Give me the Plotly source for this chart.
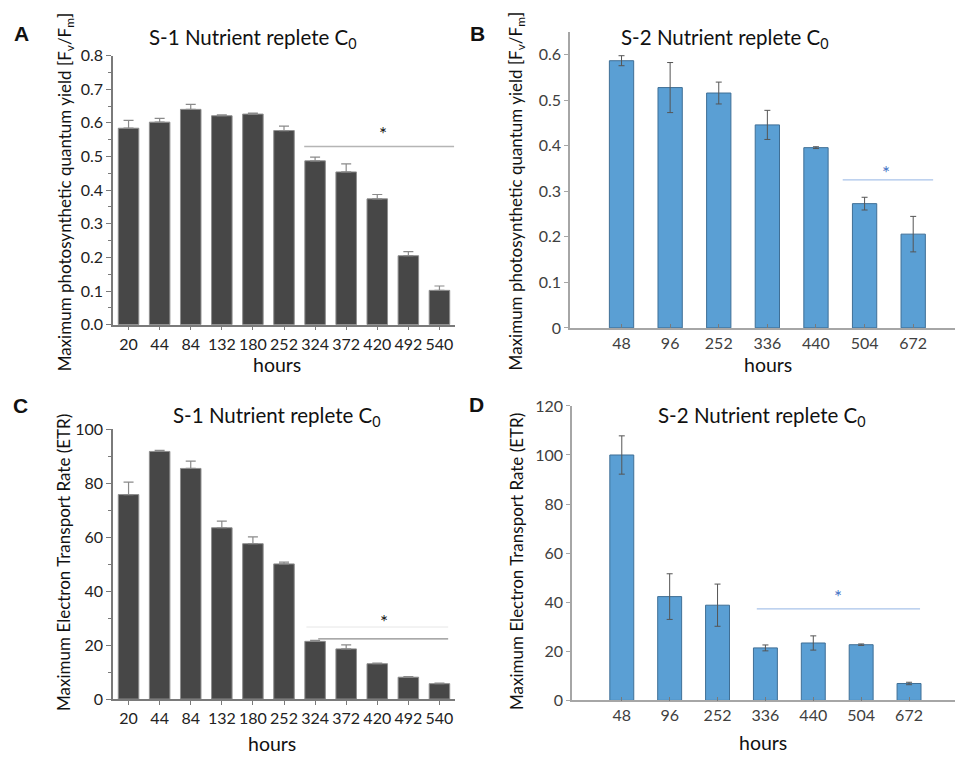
import plotly.graph_objects as go

# ---- data -------------------------------------------------------------
hours_s1 = ["20", "44", "84", "132", "180", "252", "324", "372", "420", "492", "540"]
fvfm_s1 = [0.584, 0.602, 0.640, 0.621, 0.626, 0.577, 0.487, 0.454, 0.374, 0.205, 0.102]
fvfm_s1_err = [0.023, 0.011, 0.015, 0.003, 0.003, 0.013, 0.011, 0.024, 0.013, 0.012, 0.013]

hours_s2 = ["48", "96", "252", "336", "440", "504", "672"]
fvfm_s2 = [0.587, 0.528, 0.516, 0.446, 0.396, 0.273, 0.206]
fvfm_s2_err = [0.011, 0.055, 0.024, 0.032, 0.002, 0.014, 0.039]

etr_s1 = [75.8, 91.8, 85.5, 63.5, 57.6, 50.1, 21.4, 18.6, 13.1, 8.1, 5.7]
etr_s1_err = [4.6, 0.4, 2.7, 2.5, 2.5, 0.7, 0.4, 1.5, 0.2, 0.2, 0.2]

etr_s2 = [100.0, 42.3, 38.8, 21.4, 23.4, 22.7, 6.9]
etr_s2_err = [7.8, 9.3, 8.6, 1.2, 2.9, 0.3, 0.5]

# significance brackets: (start index, end index, level, star index, star level)
sig_a = (5.65, 10.47, 0.530, 8.19, 0.568)
sig_b = (4.55, 6.41, 0.325, 5.44, 0.342)
sig_c = (6.10, 10.28, 22.3, 8.22, 28.8)
sig_c_faint = (5.72, 10.28, 26.7)
sig_d = (2.82, 6.23, 37.3, 4.52, 42.5)

# ---- styling ----------------------------------------------------------
W, H = 955, 765
FONT = "Lato"
DARK = "#474747"
DARK_EDGE = "#8f8f8f"
BLUE = "#5a9fd4"
BLUE_EDGE = "#3f6f96"


def px_x(p):
    return p / W


def px_y(p):
    return 1 - p / H


fig = go.Figure()

# S-1 panels (dark bars, one-sided error bars)
fig.add_trace(go.Bar(
    x=hours_s1, y=fvfm_s1, width=0.66, xaxis="x", yaxis="y",
    marker=dict(color=DARK, line=dict(color=DARK_EDGE, width=1)),
    error_y=dict(type="data", array=fvfm_s1_err, arrayminus=[0] * len(fvfm_s1_err),
                 symmetric=False, color="#8a8a8a", thickness=1.2, width=5),
))
fig.add_trace(go.Bar(
    x=hours_s1, y=etr_s1, width=0.66, xaxis="x3", yaxis="y3",
    marker=dict(color=DARK, line=dict(color=DARK_EDGE, width=1)),
    error_y=dict(type="data", array=etr_s1_err, arrayminus=[0] * len(etr_s1_err),
                 symmetric=False, color="#8a8a8a", thickness=1.2, width=5),
))

# S-2 panels (blue bars, symmetric error bars)
fig.add_trace(go.Bar(
    x=hours_s2, y=fvfm_s2, width=0.5, xaxis="x2", yaxis="y2",
    marker=dict(color=BLUE, line=dict(color=BLUE_EDGE, width=1)),
    error_y=dict(type="data", array=fvfm_s2_err, color="#555555", thickness=1, width=3),
))
fig.add_trace(go.Bar(
    x=hours_s2, y=etr_s2, width=0.5, xaxis="x4", yaxis="y4",
    marker=dict(color=BLUE, line=dict(color=BLUE_EDGE, width=1)),
    error_y=dict(type="data", array=etr_s2_err, color="#555555", thickness=1, width=3),
))

tick_font_s1 = dict(family=FONT, size=16, color="#222222")
tick_font_s2 = dict(family=FONT, size=16, color="#404040")

s1_x = dict(type="category", range=[-0.5, 10.5], showline=True, linecolor="#7a7a7a",
            linewidth=1.5, ticks="outside", ticklen=4, tickcolor="#7a7a7a",
            tickfont=tick_font_s1, showgrid=False, zeroline=False, fixedrange=True)
s2_x = dict(type="category", range=[-1.06, 6.86], showline=True, linecolor="#a6a6a6",
            linewidth=1.5, ticks="inside", ticklen=4, tickcolor="#7a7a7a",
            tickfont=tick_font_s2, showgrid=False, zeroline=False, fixedrange=True)

fig.update_layout(
    width=W, height=H, margin=dict(l=0, r=0, t=0, b=0),
    paper_bgcolor="white", plot_bgcolor="white", showlegend=False,
    font=dict(family=FONT, color="#111111"),
    xaxis=dict(**s1_x, domain=[px_x(113), px_x(455)], anchor="y"),
    yaxis=dict(range=[0, 0.8], dtick=0.1, tickformat=".1f", domain=[px_y(322.7), px_y(46.7)],
               anchor="x", showline=True, linecolor="#7a7a7a", linewidth=1.5,
               ticks="outside", ticklen=5, tickcolor="#7a7a7a", tickfont=tick_font_s1,
               minor=dict(dtick=0.05, ticks="outside", ticklen=3, tickcolor="#7a7a7a"),
               showgrid=False, zeroline=False, fixedrange=True),
    xaxis2=dict(**s2_x, domain=[px_x(570), 1], anchor="y2"),
    yaxis2=dict(range=[0, 0.65], tickvals=[0, 0.1, 0.2, 0.3, 0.4, 0.5, 0.6],
                ticktext=["0", "0.1", "0.2", "0.3", "0.4", "0.5", "0.6"],
                domain=[px_y(326), px_y(22.6)], anchor="x2", showline=True,
                linecolor="#a6a6a6", linewidth=1.5, ticks="outside", ticklen=4,
                tickcolor="#a6a6a6", tickfont=tick_font_s2, showgrid=False,
                zeroline=False, fixedrange=True),
    xaxis3=dict(**s1_x, domain=[px_x(113), px_x(455)], anchor="y3"),
    yaxis3=dict(range=[0, 100], dtick=20, domain=[px_y(706.6), px_y(430)], anchor="x3",
                showline=True, linecolor="#7a7a7a", linewidth=1.5, ticks="outside",
                ticklen=5, tickcolor="#7a7a7a", tickfont=tick_font_s1,
                minor=dict(dtick=10, ticks="outside", ticklen=3, tickcolor="#7a7a7a"),
                showgrid=False, zeroline=False, fixedrange=True),
    xaxis4=dict(**{**s2_x, "range": [-1.04, 6.96]}, domain=[px_x(572), 1], anchor="y4"),
    yaxis4=dict(range=[0, 120], dtick=20, domain=[px_y(708), px_y(406)], anchor="x4",
                showline=True, linecolor="#a6a6a6", linewidth=1.5, ticks="outside",
                ticklen=4, tickcolor="#a6a6a6", tickfont=tick_font_s2, showgrid=False,
                zeroline=False, fixedrange=True),
)

# significance lines and stars
def add_sig(xref, yref, spec, line_color, star_color, width=1.3):
    x0, x1, lvl, sx, sy = spec
    fig.add_shape(type="line", xref=xref, yref=yref, x0=x0, x1=x1, y0=lvl, y1=lvl,
                  line=dict(color=line_color, width=width))
    fig.add_annotation(xref=xref, yref=yref, x=sx, y=sy, text="*", showarrow=False,
                       font=dict(family=FONT, size=19, color=star_color))


add_sig("x", "y", sig_a, "#b5b5b5", "#111111", 1.5)
add_sig("x2", "y2", sig_b, "#a9c3ea", "#4472c4", 1.2)
add_sig("x3", "y3", sig_c, "#8c8c8c", "#111111", 1.2)
fig.add_shape(type="line", xref="x3", yref="y3", x0=sig_c_faint[0], x1=sig_c_faint[1],
              y0=sig_c_faint[2], y1=sig_c_faint[2], line=dict(color="#e6e6e6", width=1))
add_sig("x4", "y4", sig_d, "#a9c3ea", "#4472c4", 1.2)

# text: panel letters, titles, axis titles
def text(x, y, s, size, angle=0, bold=False, color="#111111"):
    fig.add_annotation(xref="paper", yref="paper", x=px_x(x), y=px_y(y),
                       text=f"<b>{s}</b>" if bold else s, showarrow=False,
                       textangle=angle, xanchor="center", yanchor="middle",
                       font=dict(family="Liberation Sans" if bold else FONT,
                                 size=size, color=color))


for letter, (lx, ly) in {"A": (21, 24), "B": (477, 24), "C": (20, 406), "D": (476, 405)}.items():
    text(lx, ly, letter, 21, bold=True)

text(253, 29, "S-1 Nutrient replete C<sub>0</sub>", 20.5)
text(725, 29, "S-2 Nutrient replete C<sub>0</sub>", 20.5)
text(277, 417, "S-1 Nutrient replete C<sub>0</sub>", 20.5)
text(762, 417, "S-2 Nutrient replete C<sub>0</sub>", 20.5)

text(277, 364, "hours", 19.5)
text(768, 364, "hours", 19.5)
text(272, 752, "hours", 19.5)
text(763, 751, "hours", 19.5)

fvfm_title = "Maximum photosynthetic quantum yield [F<sub>v</sub>/F<sub>m</sub>]"
etr_title = "Maximum Electron Transport Rate (ETR)"
text(66, 187, fvfm_title, 17, angle=-90)
text(517, 186, fvfm_title, 17, angle=-90)
text(64, 567, etr_title, 17, angle=-90)
text(517, 566, etr_title, 17, angle=-90)

fig.write_html("out.html")
